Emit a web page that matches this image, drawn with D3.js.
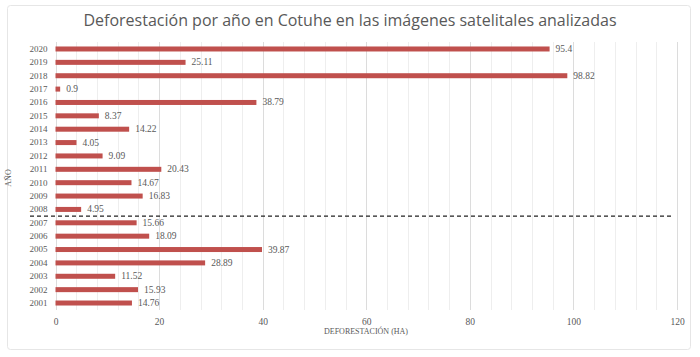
<!DOCTYPE html>
<html><head><meta charset="utf-8">
<script src="https://cdn.jsdelivr.net/npm/d3@7"></script>
<style>body{margin:0;background:#fff}svg{display:block}</style>
</head><body>
<script>
const years = ["2020","2019","2018","2017","2016","2015","2014","2013","2012","2011","2010","2009","2008","2007","2006","2005","2004","2003","2002","2001"];
const values = [95.4,25.11,98.82,0.9,38.79,8.37,14.22,4.05,9.09,20.43,14.67,16.83,4.95,15.66,18.09,39.87,28.89,11.52,15.93,14.76];
const labels = ["95.4","25.11","98.82","0.9","38.79","8.37","14.22","4.05","9.09","20.43","14.67","16.83","4.95","15.66","18.09","39.87","28.89","11.52","15.93","14.76"];
const xTicks = [0,20,40,60,80,100,120];
const splitBetween = ["2008","2007"];

(function(){
const W=700,H=357;
const svg=d3.select("body").append("svg").attr("width",W).attr("height",H);
svg.append("rect").attr("x",7.5).attr("y",5.5).attr("width",683).attr("height",344).attr("rx",3)
  .attr("fill","#fff").attr("stroke","#e6e6e6");
svg.append("text").attr("x",350).attr("y",26).attr("text-anchor","middle")
  .attr("font-family","Open Sans, sans-serif").attr("font-size",16).attr("fill","#595959")
  .text("Deforestación por año en Cotuhe en las imágenes satelitales analizadas");

const x=d3.scaleLinear().domain([0,120]).range([55.5,677]);
const y=d3.scaleBand().domain(years).range([42.3,309.7]).padding(0);
const yTop=42, yBot=310;

const minor=d3.range(0,121,4);
svg.append("g").selectAll("line").data(minor).join("line")
  .attr("x1",d=>Math.round(x(d))+0.5).attr("x2",d=>Math.round(x(d))+0.5).attr("y1",yTop).attr("y2",yBot)
  .attr("stroke",d=>d%20===0?"#dcdcdc":"#eeeeee").attr("stroke-width",1);

svg.append("g").selectAll("rect").data(years).join("rect")
  .attr("x",x(0)).attr("y",(d,i)=>y(d)+y.bandwidth()/2-2.5)
  .attr("width",(d,i)=>x(values[i])-x(0)).attr("height",5).attr("fill","#c0504d");

svg.append("g").selectAll("text").data(years).join("text")
  .attr("x",(d,i)=>x(values[i])+6).attr("y",(d,i)=>y(d)+y.bandwidth()/2+3)
  .attr("font-family","Liberation Serif, serif").attr("font-size",9.5).attr("fill","#595959")
  .text((d,i)=>labels[i]);

const ya=svg.append("g").attr("transform",`translate(${x(0)},0)`)
  .call(d3.axisLeft(y).tickSize(0).tickPadding(8));
ya.select(".domain").remove();
ya.selectAll("text").attr("font-family","Liberation Serif, serif").attr("font-size",9).attr("fill","#595959");

const xa=svg.append("g").attr("transform",`translate(0,${yBot})`)
  .call(d3.axisBottom(x).tickValues(xTicks).tickSize(0).tickPadding(8));
xa.select(".domain").remove();
xa.selectAll("text").attr("font-family","Liberation Serif, serif").attr("font-size",9.5).attr("fill","#595959");

const yb=(y(splitBetween[0])+y.bandwidth()+y(splitBetween[1]))/2;
svg.append("line").attr("x1",30).attr("x2",672).attr("y1",yb).attr("y2",yb)
  .attr("stroke","#222").attr("stroke-width",1.3).attr("stroke-dasharray","4,3");

svg.append("text").attr("x",366).attr("y",334).attr("text-anchor","middle")
  .attr("font-family","Liberation Serif, serif").attr("font-size",8).attr("fill","#595959")
  .text("DEFORESTACIÓN (HA)");
svg.append("text").attr("transform","translate(11,178) rotate(-90)").attr("text-anchor","middle")
  .attr("font-family","Liberation Serif, serif").attr("font-size",8).attr("fill","#595959")
  .text("AÑO");
})();
</script>
</body></html>
